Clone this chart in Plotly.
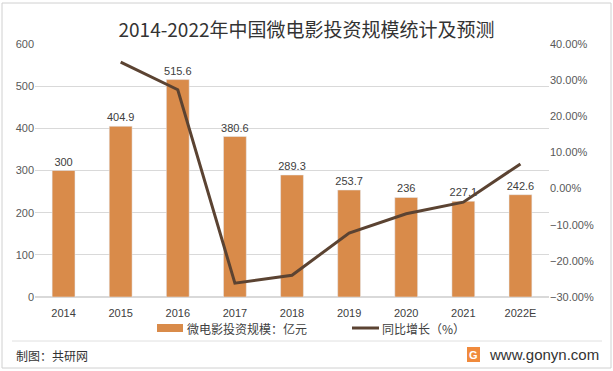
import plotly.graph_objects as go

years = ["2014", "2015", "2016", "2017", "2018", "2019", "2020", "2021", "2022E"]
scale = [300, 404.9, 515.6, 380.6, 289.3, 253.7, 236, 227.1, 242.6]
growth_years = ["2015", "2016", "2017", "2018", "2019", "2020", "2021", "2022E"]
growth = [34.97, 27.34, -26.18, -23.99, -12.31, -6.98, -3.77, 6.83]
scale_labels = ["300", "404.9", "515.6", "380.6", "289.3", "253.7", "236", "227.1", "242.6"]
legend_names = ["微电影投资规模：亿元", "同比增长（%）"]

W, H = 613, 371
L, R, T, B = 35, 549, 44, 297

def px(x):
    return (x - L) / (R - L)

def py(y):
    return (B - y) / (B - T)

FONT = "Liberation Sans, Noto Sans CJK SC, sans-serif"
CJK = "Noto Sans CJK SC, sans-serif"
BAR_C = "#D98B4A"
LINE_C = "#5B4332"

fig = go.Figure()
fig.add_trace(go.Bar(
    x=years, y=scale, name=legend_names[0],
    marker=dict(color=BAR_C), width=0.4,
    text=scale_labels, textposition="outside", cliponaxis=False, constraintext="none",
    textfont=dict(size=11, color="#404040", family=FONT),
))
fig.add_trace(go.Scatter(
    x=growth_years, y=growth, name=legend_names[1], yaxis="y2",
    mode="lines", line=dict(color=LINE_C, width=3),
))

fig.update_layout(
    width=W, height=H,
    margin=dict(l=L, r=W - R, t=T, b=H - B),
    paper_bgcolor="white", plot_bgcolor="white",
    font=dict(family=FONT, size=11, color="#595959"),
    title=dict(text="2014-2022年中国微电影投资规模统计及预测", x=0.5, xanchor="center",
               y=1 - 30 / H, yanchor="middle",
               font=dict(family=CJK, size=19, color="#333333")),
    xaxis=dict(showgrid=False, showline=False, ticks="", ticklabelstandoff=8,
               tickfont=dict(size=11, color="#404040")),
    yaxis=dict(range=[0, 600], dtick=100, showgrid=True, gridcolor="#D9D9D9", gridwidth=1,
               zeroline=True, zerolinecolor="#D9D9D9", showline=False, ticks="",
               tickfont=dict(size=11, color="#595959")),
    yaxis2=dict(range=[-30, 40], dtick=10, overlaying="y", side="right", showgrid=False,
                zeroline=False, showline=False, ticks="", ticksuffix=".00%",
                tickfont=dict(size=11, color="#595959")),
    showlegend=False,
)

LEG_Y = 328
shapes = [
    dict(type="rect", xref="paper", yref="paper", x0=px(2), x1=px(611), y0=py(368), y1=py(3),
         line=dict(color="#D0D0D0", width=1), fillcolor="rgba(0,0,0,0)", layer="below"),
    dict(type="line", xref="paper", yref="paper", x0=px(12), x1=px(602), y0=py(341), y1=py(341),
         line=dict(color="#E0E0E0", width=1)),
    dict(type="rect", xref="paper", yref="paper", x0=px(157), x1=px(183), y0=py(LEG_Y + 4), y1=py(LEG_Y - 4),
         line=dict(width=0), fillcolor=BAR_C),
    dict(type="line", xref="paper", yref="paper", x0=px(352), x1=px(379), y0=py(LEG_Y), y1=py(LEG_Y),
         line=dict(color=LINE_C, width=3)),
    dict(type="rect", xref="paper", yref="paper", x0=px(467), x1=px(480), y0=py(362), y1=py(347),
         line=dict(width=0), fillcolor="#F08A3C"),
]
annotations = [
    dict(text=legend_names[0], xref="paper", yref="paper", x=px(185), y=py(LEG_Y), xanchor="left",
         yanchor="middle", showarrow=False, font=dict(family=CJK, size=12, color="#404040")),
    dict(text=legend_names[1], xref="paper", yref="paper", x=px(380), y=py(LEG_Y), xanchor="left",
         yanchor="middle", showarrow=False, font=dict(family=CJK, size=12, color="#404040")),
    dict(text="制图：共研网", xref="paper", yref="paper", x=px(14), y=py(355), xanchor="left",
         yanchor="middle", showarrow=False, font=dict(family=CJK, size=12, color="#333333")),
    dict(text="www.gonyn.com", xref="paper", yref="paper", x=px(601), y=py(354), xanchor="right",
         yanchor="middle", showarrow=False, font=dict(family="Liberation Sans, sans-serif", size=15, color="#333333")),
    dict(text="<b>G</b>", xref="paper", yref="paper", x=px(473.5), y=py(354.5), xanchor="center",
         yanchor="middle", showarrow=False, font=dict(family="Liberation Sans, sans-serif", size=11, color="white")),
]
fig.update_layout(shapes=shapes, annotations=annotations)

fig.write_html("out.html", config={"displayModeBar": False},
               post_script="document.body.style.margin='0';document.body.style.overflow='hidden';")
